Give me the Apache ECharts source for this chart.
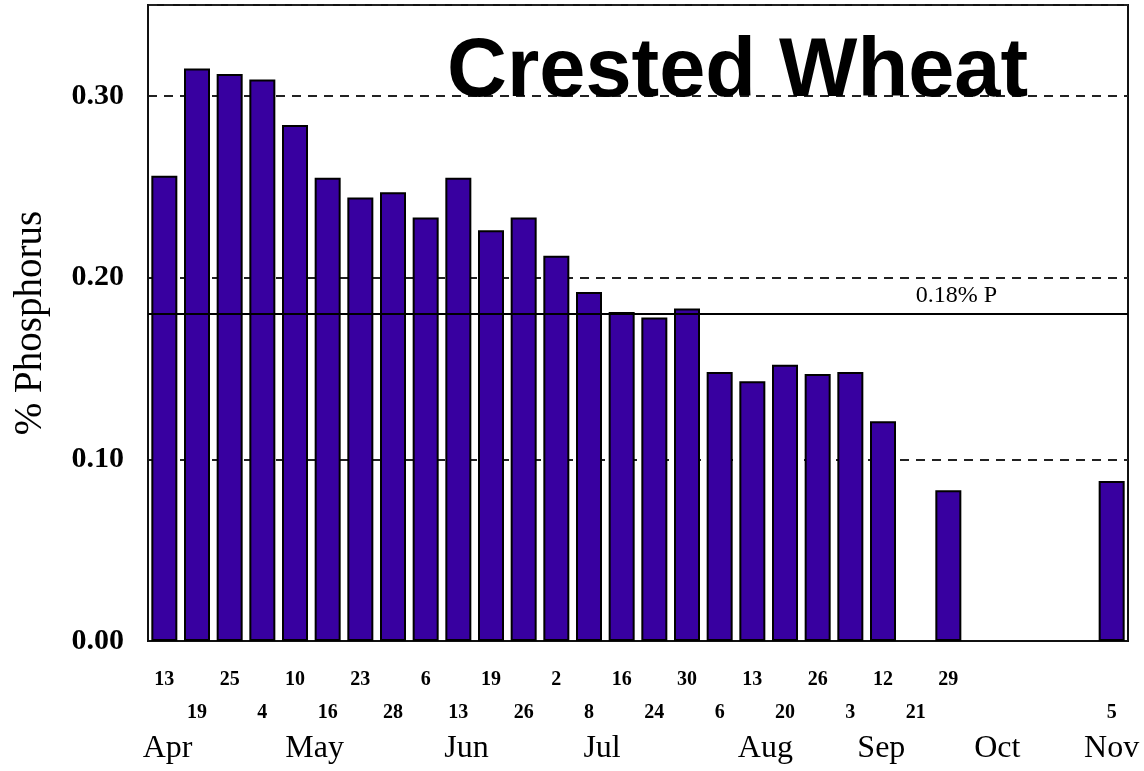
<!DOCTYPE html>
<html>
<head>
<meta charset="utf-8">
<script src="https://cdn.jsdelivr.net/npm/echarts@6/dist/echarts.min.js"></script>
<style>
  html, body { margin: 0; padding: 0; background: #fff; }
  #chart { width: 1144px; height: 771px; }
</style>
</head>
<body>
<div id="chart"></div>
<script>
  // sampling dates (day of month), blanks are empty slots on the time line
  const days = ['13', '19', '25', '4', '10', '16', '23', '28', '6', '13', '19', '26', '2', '8', '16',
    '24', '30', '6', '13', '20', '26', '3', '12', '21', '29', '', '', '', '', '5'];
  // % phosphorus per date, null = no sample
  const phosphorus = [0.256, 0.315, 0.312, 0.309, 0.284, 0.255, 0.244, 0.247, 0.233, 0.255, 0.226, 0.233,
    0.212, 0.192, 0.181, 0.178, 0.183, 0.148, 0.143, 0.152, 0.147, 0.148, 0.121, null, 0.083,
    null, null, null, null, 0.088];
  const months = ['Apr', 'May', 'Jun', 'Jul', 'Aug', 'Sep', 'Oct', 'Nov'];
  const monthAt = [0.1, 4.6, 9.25, 13.4, 18.4, 21.95, 25.5, 29.0]; // position in slot units
  const yTicks = [0, 0.1, 0.2, 0.3];
  const threshold = 0.18;

  let chart = echarts.init(document.getElementById('chart'));
  let serif = '"Liberation Serif", "DejaVu Serif", serif';

  let option = {
    animation: false,
    title: {
      text: 'Crested Wheat',
      left: 442,
      top: 27,
      textStyle: {
        fontFamily: '"Liberation Sans", Arial, sans-serif',
        fontSize: 83,
        fontWeight: 'bold',
        color: '#000'
      }
    },
    grid: {
      left: 148,
      right: 16,
      top: 5,
      bottom: 130,
      show: true,
      borderColor: '#111',
      borderWidth: 2,
      outerBoundsMode: 'none'
    },
    xAxis: [
      {
        type: 'category',
        data: days,
        position: 'bottom',
        axisLine: { lineStyle: { color: '#111', width: 2 } },
        axisTick: { show: false },
        axisLabel: {
          interval: 0,
          margin: 29,
          fontFamily: serif,
          fontWeight: 'bold',
          fontSize: 20,
          color: '#000',
          formatter: (v, i) => (i % 2 === 0 ? v : '')
        }
      },
      {
        type: 'category',
        data: days,
        position: 'bottom',
        axisLine: { show: false },
        axisTick: { show: false },
        axisLabel: {
          interval: 0,
          margin: 62,
          fontFamily: serif,
          fontWeight: 'bold',
          fontSize: 20,
          color: '#000',
          formatter: (v, i) => (i % 2 === 1 ? v : '')
        }
      },
      {
        type: 'value',
        min: -0.5,
        max: 29.5,
        position: 'bottom',
        axisLine: { show: false },
        axisTick: { show: false },
        splitLine: { show: false },
        axisLabel: {
          customValues: monthAt,
          margin: 92,
          fontFamily: serif,
          fontSize: 32,
          color: '#000',
          formatter: (v) => months[monthAt.indexOf(v)] || ''
        }
      }
    ],
    yAxis: {
      type: 'value',
      min: 0,
      max: 0.35,
      interval: 0.1,
      name: '% Phosphorus',
      nameLocation: 'middle',
      nameGap: 98,
      nameTextStyle: {
        fontFamily: serif,
        fontSize: 39,
        color: '#000'
      },
      axisLine: { show: true, onZero: false, lineStyle: { color: '#111', width: 2 } },
      axisTick: { show: false },
      axisLabel: {
        margin: 24,
        fontFamily: serif,
        fontWeight: 'bold',
        fontSize: 30,
        color: '#000',
        formatter: (v) => (yTicks.some(t => Math.abs(t - v) < 1e-6) ? v.toFixed(2) : '')
      },
      splitLine: {
        show: true,
        lineStyle: { color: '#222', width: 2, type: [9, 7] }
      }
    },
    series: [
      {
        name: 'Phosphorus',
        type: 'bar',
        xAxisIndex: 0,
        data: phosphorus,
        barWidth: 26,
        itemStyle: {
          color: '#3800a0',
          borderColor: '#000',
          borderWidth: 2
        },
        markLine: {
          silent: true,
          symbol: 'none',
          lineStyle: { color: '#000', width: 2, type: 'solid' },
          label: {
            position: 'insideEndTop',
            distance: [131, 6],
            formatter: '0.18% P',
            fontFamily: serif,
            fontSize: 24,
            color: '#000'
          },
          data: [{ yAxis: threshold }]
        }
      }
    ]
  };

  chart.setOption(option);
</script>
</body>
</html>
